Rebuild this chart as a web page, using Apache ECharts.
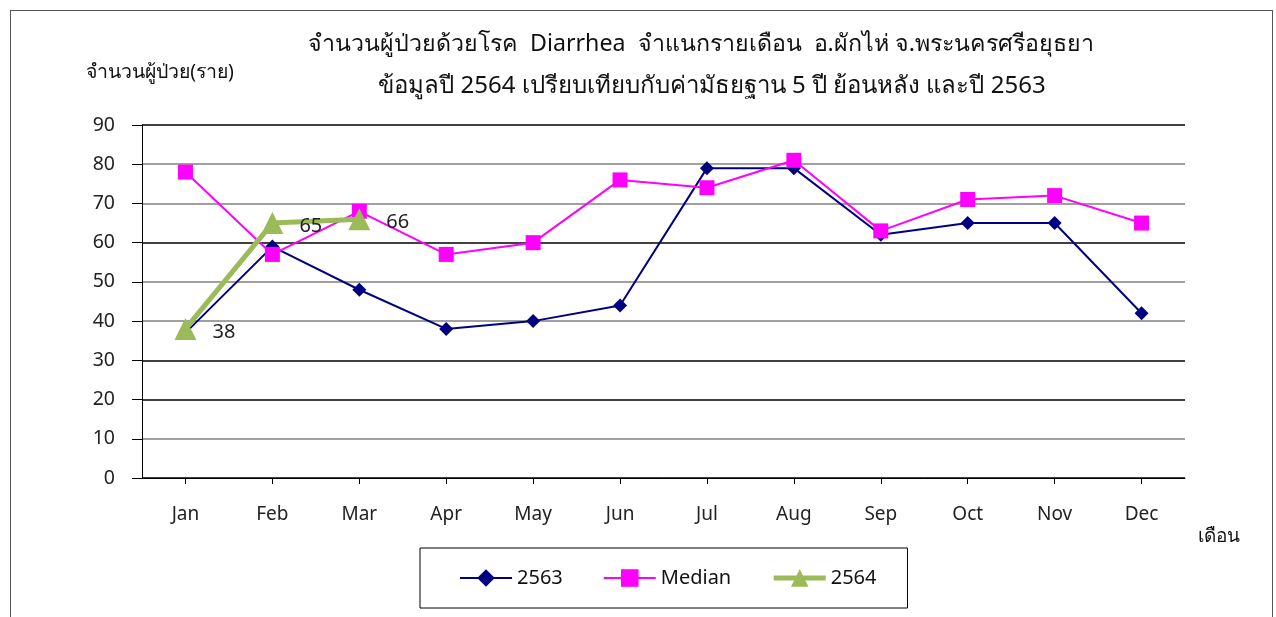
<!DOCTYPE html>
<html>
<head>
<meta charset="utf-8">
<script src="https://cdn.jsdelivr.net/npm/echarts@6/dist/echarts.min.js"></script>
<style>
html,body{margin:0;padding:0;background:#fff;}
#frame{position:absolute;left:10px;top:10px;width:1263px;height:620px;border:1px solid #555;box-sizing:border-box;}
#c{position:absolute;left:0;top:0;width:1276px;height:617px;}
</style>
</head>
<body>
<div id="frame"></div>
<div id="c"></div>
<script>
const months = ['Jan','Feb','Mar','Apr','May','Jun','Jul','Aug','Sep','Oct','Nov','Dec'];
const y2563 = [37, 59, 48, 38, 40, 44, 79, 79, 62, 65, 65, 42];
const median = [78, 57, 68, 57, 60, 76, 74, 81, 63, 71, 72, 65];
const y2564 = [38, 65, 66];
const titleLine1 = 'จำนวนผู้ป่วยด้วยโรค  Diarrhea  จำแนกรายเดือน  อ.ผักไห่ จ.พระนครศรีอยุธยา';
const titleLine2 = 'ข้อมูลปี 2564 เปรียบเทียบกับค่ามัธยฐาน 5 ปี ย้อนหลัง และปี 2563';
const yName = 'จำนวนผู้ป่วย(ราย)';
const xName = 'เดือน';

const FONT = '"Noto Sans", "DejaVu Sans", sans-serif';
const chart = echarts.init(document.getElementById('c'));
chart.setOption({
  backgroundColor: 'transparent',
  animation: false,
  textStyle: {fontFamily: FONT},
  title: [
    {text: titleLine1, left: 696, top: 28, textAlign: 'center',
     textStyle: {fontSize: 23.2, fontWeight: 'normal', color: '#111', fontFamily: FONT}},
    {text: titleLine2, left: 707, top: 69, textAlign: 'center',
     textStyle: {fontSize: 24, fontWeight: 'normal', color: '#111', fontFamily: FONT}}
  ],
  graphic: [
    {type: 'text', left: 1198, top: 527,
     style: {text: xName, fontSize: 19, fill: '#111', fontFamily: FONT}}
  ],
  grid: {left: 142, right: 91, top: 125, bottom: 139, containLabel: false},
  legend: {
    left: 420, top: 548,
    padding: [20, 31, 20, 39],
    borderColor: '#000', borderWidth: 1,
    itemWidth: 52, itemHeight: 22, itemGap: 40,
    textStyle: {fontSize: 20, color: '#111', fontFamily: FONT},
    data: [
      {name: '2563'},
      {name: 'Median'},
      {name: '2564', lineStyle: {width: 5}}
    ]
  },
  xAxis: {
    type: 'category', data: months, boundaryGap: true,
    axisLine: {lineStyle: {color: '#000', width: 1}},
    axisTick: {show: true, alignWithLabel: true, length: 6, lineStyle: {color: '#000'}},
    axisLabel: {fontSize: 19, color: '#222', margin: 27}
  },
  yAxis: {
    type: 'value', min: 0, max: 90, interval: 10,
    name: yName, nameLocation: 'end', nameGap: 43,
    nameTextStyle: {fontSize: 19.5, color: '#111', align: 'center', padding: [0, 0, 0, 36]},
    axisLine: {show: true, lineStyle: {color: '#000', width: 1}},
    axisTick: {show: true, length: 10, lineStyle: {color: '#000'}},
    axisLabel: {fontSize: 19.5, color: '#222', margin: 27},
    splitLine: {show: true, lineStyle: {width: 1.5,
      color: ['#000', '#808080', '#000', '#000', '#808080', '#808080', '#000', '#808080', '#808080', '#000']}}
  },
  series: [
    {
      name: '2563', type: 'line', data: y2563,
      symbol: 'diamond', symbolSize: 14,
      lineStyle: {color: '#000080', width: 2},
      itemStyle: {color: '#000080'},
      z: 2
    },
    {
      name: 'Median', type: 'line', data: median,
      symbol: 'rect', symbolSize: 15,
      lineStyle: {color: '#FF00FF', width: 2},
      itemStyle: {color: '#FF00FF'},
      z: 3
    },
    {
      name: '2564', type: 'line', data: y2564,
      symbol: 'triangle', symbolSize: 22,
      lineStyle: {color: '#9BBB59', width: 5},
      itemStyle: {color: '#9BBB59'},
      label: {show: true, position: 'right', distance: 16, offset: [0, 3], fontSize: 20, color: '#222', fontFamily: FONT},
      z: 4
    }
  ]
});
</script>
</body>
</html>
